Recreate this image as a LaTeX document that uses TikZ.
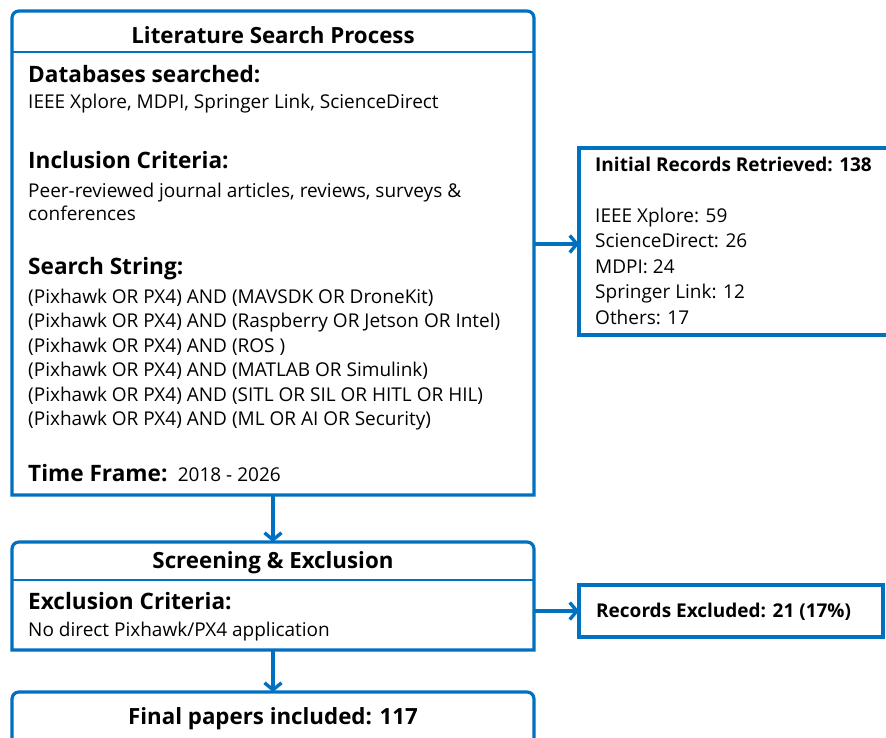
\documentclass[tikz,border=0pt]{standalone}
\usepackage{fontspec}
\setmainfont{Open Sans}
\usetikzlibrary{arrows.meta,calc}
\definecolor{myblue}{RGB}{0,112,192}
\newcommand\toproundbox[1]{%
  \draw[boxline] (#1.south west) -- ([yshift=-7pt]#1.north west)
    to[out=90,in=180] ([xshift=7pt]#1.north west)
    -- ([xshift=-7pt]#1.north east)
    to[out=0,in=90] ([yshift=-7pt]#1.north east)
    -- (#1.south east) -- cycle;}
\tikzset{
  boxarea/.style={draw=none,inner sep=0pt,outer sep=0pt,anchor=north west},
  boxline/.style={draw=myblue,line width=3.2pt},
  plainbox/.style={draw=myblue,line width=3.2pt,inner sep=0pt,outer sep=0pt,anchor=north west},
  divline/.style={draw=myblue,line width=2.6pt},
  arr/.style={draw=myblue,line width=3.4pt,-{Straight Barb[length=7pt,width=17pt]}},
  title/.style={inner sep=0pt,yshift=-2pt,font=\fontsize{22.3}{26}\selectfont\bfseries},
  head/.style={inner sep=0pt,yshift=-4pt,anchor=mid west,font=\fontsize{22.6}{26}\selectfont\bfseries},
  body/.style={inner sep=0pt,yshift=-4.5pt,anchor=mid west,font=\fontsize{19}{22}\selectfont},
  rhead/.style={inner sep=0pt,yshift=-4.5pt,anchor=mid west,font=\fontsize{19}{22}\selectfont\bfseries},
}
\begin{document}
\begin{tikzpicture}[x=1pt,y=-1pt]
\useasboundingbox (0,0) rectangle (886,738);
\clip (0,0) rectangle (886,738);
\fill[white] (0,0) rectangle (886,738);

% ---- Box 1: Literature Search Process
\node[boxarea,minimum width=522,minimum height=484] (lit) at (12,11) {};
\toproundbox{lit}
\coordinate (d1) at (0,52);
\draw[divline] (lit.west |- d1) -- (lit.east |- d1);
\node[title] (litT) at (273,33) {Literature Search Process};
\node[head] (dbH) at (28,76) {Databases searched:};
\node[body] (dbB) at (28,101) {IEEE Xplore, MDPI, Springer Link, ScienceDirect};
\node[head] (inH) at (28,162) {Inclusion Criteria:};
\node[body] (inB1) at (28,190) {Peer-reviewed journal articles, reviews, surveys \&};
\node[body] (inB2) at (28,213) {conferences};
\node[head] (ssH) at (28,268) {Search String:};
\node[body] (s1) at (28,296) {(Pixhawk OR PX4) AND (MAVSDK OR DroneKit)};
\node[body] (s2) at (28,320.5) {(Pixhawk OR PX4) AND (Raspberry OR Jetson OR Intel)};
\node[body] (s3) at (28,345) {(Pixhawk OR PX4) AND (ROS )};
\node[body] (s4) at (28,369.5) {(Pixhawk OR PX4) AND (MATLAB OR Simulink)};
\node[body] (s5) at (28,394) {(Pixhawk OR PX4) AND (SITL OR SIL OR HITL OR HIL)};
\node[body] (s6) at (28,418.5) {(Pixhawk OR PX4) AND (ML OR AI OR Security)};
\node[head] (tfH) at (28,475) {Time Frame:};
\node[body,yshift=4.5pt,anchor=base west] (tfB) at ([xshift=10pt]tfH.base east) {2018 - 2026};

% ---- Right box 1: Initial records
\node[plainbox,minimum width=330,minimum height=187] (init) at (579,148) {};
\node[rhead] (initT) at (595,164) {Initial Records Retrieved: 138};
\node[body] (r1) at (595,215) {IEEE Xplore: 59};
\node[body] (r2) at (595,240.5) {ScienceDirect: 26};
\node[body] (r3) at (595,266) {MDPI: 24};
\node[body] (r4) at (595,291.5) {Springer Link: 12};
\node[body] (r5) at (595,317) {Others: 17};

% ---- Box 2: Screening & Exclusion
\node[boxarea,minimum width=522,minimum height=108] (scr) at (12,542) {};
\toproundbox{scr}
\coordinate (d2) at (0,580);
\draw[divline] (scr.west |- d2) -- (scr.east |- d2);
\node[title] (scrT) at (273,561) {Screening \& Exclusion};
\node[head] (exH) at (28,603) {Exclusion Criteria:};
\node[body] (exB) at (28,629) {No direct Pixhawk/PX4 application};

% ---- Right box 2: Records excluded
\node[plainbox,minimum width=304,minimum height=52] (excl) at (579,585) {};
\node[rhead] (exclT) at (596,610) {Records Excluded: 21 (17\%)};

% ---- Box 3: Final papers
\node[boxarea,minimum width=522,minimum height=80] (fin) at (12,692) {};
\toproundbox{fin}
\node[title] (finT) at (273,717) {Final papers included: 117};

% ---- Connectors
\draw[arr] (lit.south) -- (scr.north);
\draw[arr] (scr.south) -- (fin.north);
\coordinate (a1) at (0,244);
\draw[arr] (lit.east |- a1) -- (init.west |- a1);
\coordinate (a2) at (0,611);
\draw[arr] (scr.east |- a2) -- (excl.west |- a2);
\end{tikzpicture}
\end{document}
